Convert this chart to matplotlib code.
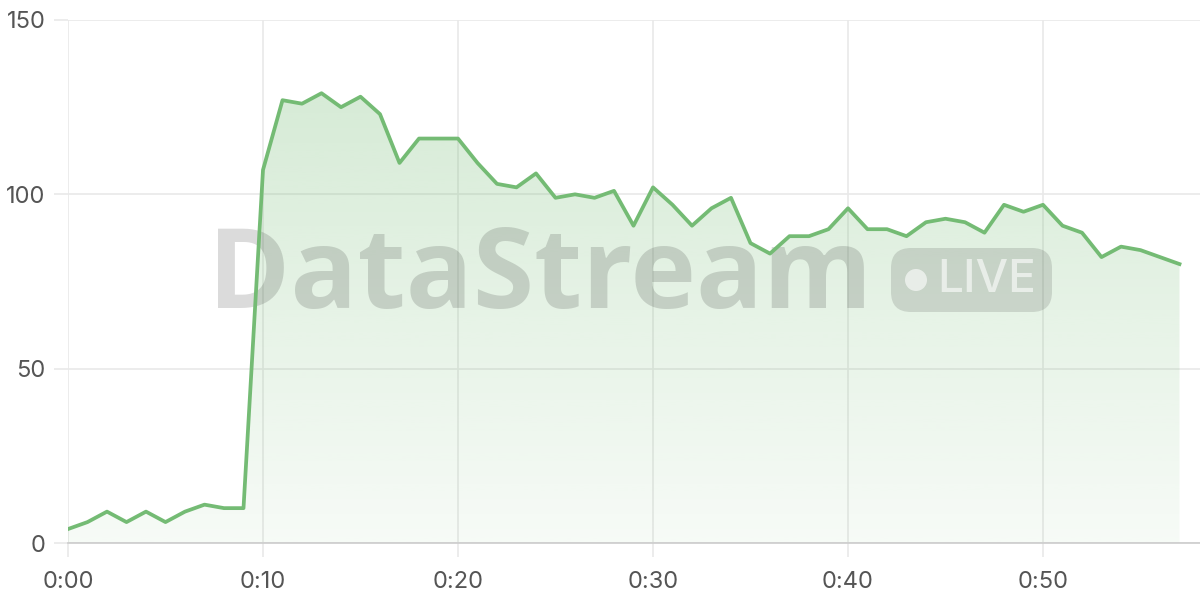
import numpy as np
import matplotlib.pyplot as plt
from matplotlib.patches import FancyBboxPatch, Circle

plt.rcParams['font.family'] = ['Inter', 'DejaVu Sans']

# one point per minute, 0:00 .. 0:57
minutes = list(range(58))
values = [4, 6, 9, 6, 9, 6, 9, 11, 10, 10,
          107, 127, 126, 129, 125, 128, 123, 109, 116, 116,
          116, 109, 103, 102, 106, 99, 100, 99, 101, 91,
          102, 97, 91, 96, 99, 86, 83, 88, 88, 90,
          96, 90, 90, 88, 92, 93, 92, 89, 97, 95,
          97, 91, 89, 82, 85, 84, 82, 80]
tick_pos = [0, 10, 20, 30, 40, 50]
tick_labels = ['0:00', '0:10', '0:20', '0:30', '0:40', '0:50']
y_ticks = [0, 50, 100, 150]

W, H = 1200, 600
fig = plt.figure(figsize=(12, 6), dpi=100)
ax = fig.add_axes([68 / W, (H - 543) / H, (W - 68) / W, (543 - 20) / H])

line_color = '#74bb74'
ax.plot(minutes, values, color=line_color, lw=2.7, zorder=4)

# gradient fill under the line
poly = ax.fill_between(minutes, values, 0, color='none', lw=0)
grad = np.linspace(0, 1, 256).reshape(-1, 1)
rgba = np.zeros((256, 1, 4))
rgba[..., 0] = 0x74 / 255
rgba[..., 1] = 0xbb / 255
rgba[..., 2] = 0x74 / 255
rgba[..., 3] = 0.06 + 0.27 * grad
img = ax.imshow(rgba, extent=[0, 57, 0, 150], origin='lower', aspect='auto', zorder=2)
img.set_clip_path(poly.get_paths()[0], transform=ax.transData)

ax.set_xlim(0, (W - 68) / 19.5)
ax.set_ylim(0, 150)
ax.set_xticks(tick_pos)
ax.set_xticklabels(tick_labels)
ax.set_yticks(y_ticks)
ax.grid(True, color='#e9e9e9', lw=1.2, zorder=0)
for s in ['top', 'right', 'left']:
    ax.spines[s].set_visible(False)
ax.spines['bottom'].set_color('#cccccc')
ax.spines['bottom'].set_linewidth(1.2)
ax.tick_params(axis='both', length=10, color='#e9e9e9', width=1.2,
               labelsize=17, labelcolor='#555555')
ax.tick_params(axis='x', pad=10)
ax.tick_params(axis='y', pad=6)

# watermark (under the line, over the fill)
ax.text(208 / W, (H - 279) / H, 'DataStream', family='Open Sans', weight='bold',
        fontsize=80, color='#000000', alpha=0.14, ha='left', va='center',
        transform=fig.transFigure, zorder=3, clip_on=False)
badge = FancyBboxPatch((8.91, 6 - 3.12), 1.61, 0.64,
                       boxstyle='round,pad=0,rounding_size=0.2',
                       transform=fig.dpi_scale_trans, fc='#000000', alpha=0.12,
                       ec='none', zorder=3, clip_on=False)
ax.add_artist(badge)
ax.add_artist(Circle((9.16, 6 - 2.80), 0.11, transform=fig.dpi_scale_trans,
                     fc='#ffffff', alpha=0.6, ec='none', zorder=3.5, clip_on=False))
ax.text(9.87, 6 - 2.80, 'LIVE', family='Inter', weight='medium', fontsize=33,
        color='#ffffff', alpha=0.6, ha='center', va='center',
        transform=fig.dpi_scale_trans, zorder=3.5, clip_on=False)

fig.savefig('out.png', dpi=100)
